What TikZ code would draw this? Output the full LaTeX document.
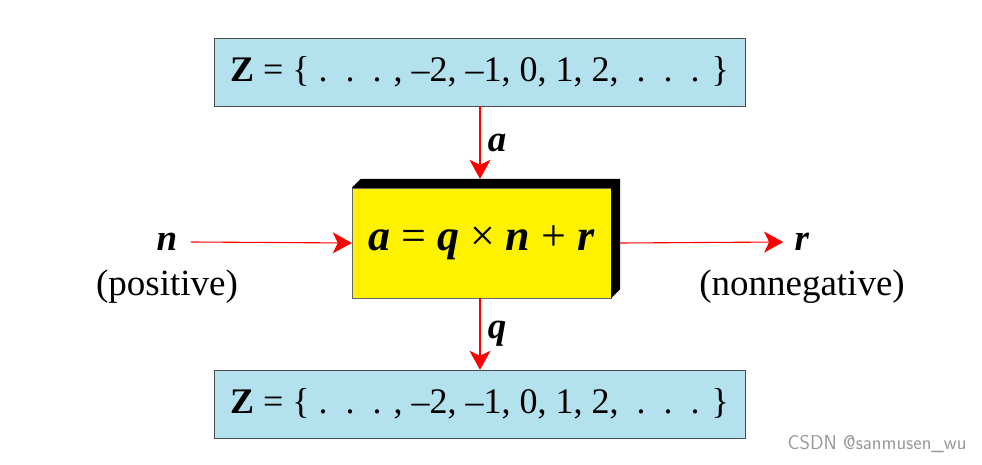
\documentclass[tikz,border=0pt]{standalone}
\usepackage{fontspec}
\setmainfont{Liberation Serif}
\usepackage{xcolor}
\usetikzlibrary{arrows.meta, positioning, calc}

\definecolor{zblue}{HTML}{B3E1ED}
\tikzset{
  zbox/.style={draw=black!70, fill=zblue, minimum width=531pt, minimum height=68pt, inner sep=0pt, font=\fontsize{36}{42}\selectfont},
  eqbox/.style={draw=black!60, fill=yellow, minimum width=259pt, minimum height=110pt, inner sep=0pt, font=\fontsize{44}{50}\selectfont},
  arr/.style={red, line width=1.1pt, -{Stealth[length=19pt, width=21pt, inset=5pt]}},
  lbl/.style={font=\fontsize{37}{42}\selectfont}
}

\begin{document}
\begin{tikzpicture}[x=1pt, y=1pt]
  \useasboundingbox (0,0) rectangle (982,464);
  % the two sets of integers
  \foreach \y/\nm in {392/ztop, 60/zbot} {
    \node[zbox] (\nm) at (479.5,\y) {\textbf{Z} = \{ .\ \ .\ \ . , –2, –1, 0, 1, 2,\ \ .\ \ .\ \ . \}};
  }
  % division box with its black extrusion
  \node[eqbox] (eq) at (481.5,221) {\textbf{\textit{a}} = \textbf{\textit{q}} × \textbf{\textit{n}} + \textbf{\textit{r}}};
  \fill[black] (eq.north west) -- ++(9,9) -- ($(eq.north east)+(9,9)$) -- ($(eq.south east)+(9,9)$)
    -- (eq.south east) -- (eq.north east) -- cycle;
  \coordinate (eqtop) at ($(eq.north)+(-1.5,9)$);
  \coordinate (eqright) at ($(eq.east)+(9,0)$);

  \node[lbl] (n) at (167,222) {\textbf{\textit{n}}};
  \node[lbl, below=12pt of n] (npos) {(positive)};
  \node[lbl] (r) at (802,222) {\textbf{\textit{r}}};
  \node[lbl, below=12pt of r] (rneg) {(nonnegative)};

  \draw[arr] (ztop.south -| eqtop) -- (eqtop) node[midway, right=4pt, lbl, black] {\textbf{\textit{a}}};
  \draw[arr] (eq.south -| eqtop) -- (zbot.north -| eqtop) node[midway, right=4pt, lbl, black] {\textbf{\textit{q}}};
  \draw[arr] (n.east) ++(10,0) -- (eq.west);
  \draw[arr] (eqright) -- ($(r.west)+(-8,0)$);

  \node[text=black!40, font=\sffamily\fontsize{20}{24}\selectfont, anchor=east] (mark) at (970,20) {CSDN @sanmusen\_wu};
\end{tikzpicture}
\end{document}
